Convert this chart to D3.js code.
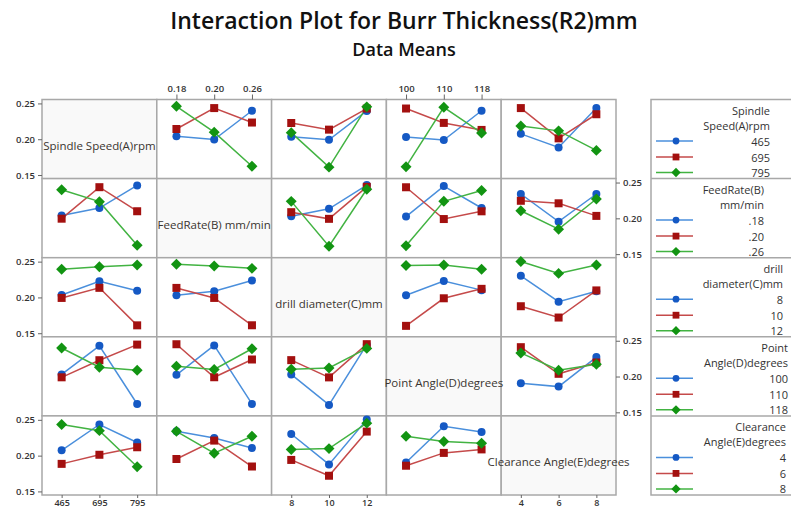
<!DOCTYPE html>
<html><head><meta charset="utf-8">
<script src="https://cdn.jsdelivr.net/npm/d3@7"></script>
<style>
body{margin:0;background:#fff}
svg{display:block}
text{font-family:"Open Sans","Noto Sans",sans-serif}
</style>
</head><body>
<svg id="c" width="791" height="507"></svg>
<script>
// ---------- data ----------
const titleText = "Interaction Plot for Burr Thickness(R2)mm";
const subtitleText = "Data Means";
const factorNames = ["Spindle Speed(A)rpm", "FeedRate(B) mm/min", "drill diameter(C)mm", "Point Angle(D)degrees", "Clearance Angle(E)degrees"];
const axisLevels = [["465","695","795"], ["0.18","0.20","0.26"], ["8","10","12"], ["100","110","118"], ["4","6","8"]];
const legendLevels = [["465","695","795"], [".18",".20",".26"], ["8","10","12"], ["100","110","118"], ["4","6","8"]];
const legendTitles = [["Spindle","Speed(A)rpm"], ["FeedRate(B)","mm/min"], ["drill","diameter(C)mm"], ["Point","Angle(D)degrees"], ["Clearance","Angle(E)degrees"]];
const yTicks = [0.15, 0.20, 0.25];

// cell means: rows = levels of first factor, columns = levels of second factor
const meansAB = [[0.2040,0.1995,0.2398],[0.2143,0.2435,0.2233],[0.2460,0.2099,0.1623]];
const meansAC = [[0.2034,0.1993,0.2395],[0.2227,0.2134,0.2428],[0.2092,0.1610,0.2452]];
const meansAD = [[0.2030,0.1989,0.2398],[0.2429,0.2228,0.2130],[0.1616,0.2446,0.2088]];
const meansAE = [[0.2075,0.1885,0.2435],[0.2435,0.2012,0.2349],[0.2184,0.2117,0.1844]];
const meansBC = [[0.2030,0.2133,0.2464],[0.2086,0.1993,0.2440],[0.2237,0.1611,0.2406]];
const meansBD = [[0.2024,0.2451,0.2144],[0.2434,0.1990,0.2098],[0.1617,0.2238,0.2388]];
const meansBE = [[0.2340,0.1953,0.2340],[0.2245,0.2210,0.2034],[0.2106,0.1848,0.2270]];
const meansCD = [[0.2030,0.2229,0.2102],[0.1603,0.1988,0.2120],[0.2445,0.2452,0.2393]];
const meansCE = [[0.2302,0.1940,0.2086],[0.1877,0.1719,0.2098],[0.2503,0.2336,0.2454]];
const meansDE = [[0.1905,0.1859,0.2272],[0.2410,0.2038,0.2196],[0.2330,0.2087,0.2172]];

const tables = {"0-1":meansAB,"0-2":meansAC,"0-3":meansAD,"0-4":meansAE,"1-2":meansBC,"1-3":meansBD,"1-4":meansBE,"2-3":meansCD,"2-4":meansCE,"3-4":meansDE};
function cellMeans(r, c){
  if (r < c) return tables[r+"-"+c];
  const t = tables[c+"-"+r];
  return t[0].map((_,k)=>t.map(row=>row[k]));
}

// ---------- style / layout ----------
const lineCols = ["#4a8fdc","#c54a4a","#42b342"];
const markCols = ["#1559c4","#a3100f","#129412"];
const gridL = 42, gridT = 99.5, cw = 114.8, ch = 79.1, N = 5;
const gridR = gridL + N*cw, gridB = gridT + N*ch;
const legL = 651;
const legRight = [770, 764, 783, 788, 786];
const yDomain = [0.145, 0.2555];

const svg = d3.select("#c");

function marker(sel, k, scale){
  const s = scale || 1;
  if (k === 0) sel.append("circle").attr("r", 4*s).attr("fill", markCols[0]);
  else if (k === 1) sel.append("path").attr("d", d3.symbol(d3.symbolSquare, 64*s*s)()).attr("fill", markCols[1]);
  else sel.append("path").attr("d", d3.symbol(d3.symbolSquare, 60*s*s)()).attr("transform","rotate(45)").attr("fill", markCols[2]);
}

// title
svg.append("text").attr("x",404).attr("y",29).attr("text-anchor","middle")
  .attr("font-size",23).attr("font-weight",600).attr("fill","#111").text(titleText);
svg.append("text").attr("x",404).attr("y",56).attr("text-anchor","middle")
  .attr("font-size",18).attr("font-weight",600).attr("fill","#111").text(subtitleText);

const y = d3.scaleLinear().domain(yDomain);

for (let i=0;i<N;i++){
  for (let j=0;j<N;j++){
    const x0 = gridL + j*cw, y0 = gridT + i*ch;
    const g = svg.append("g");
    g.append("rect").attr("x",x0).attr("y",y0).attr("width",cw).attr("height",ch)
      .attr("fill", i===j ? "#f9f9f9" : "#fff").attr("stroke","#a8a8a8").attr("stroke-width",1.5);
    if (i===j) continue;
    const xs = d3.scalePoint().domain(axisLevels[j]).range([x0, x0+cw]).padding(0.52);
    const ys = y.copy().range([y0+ch, y0]);
    const m = cellMeans(i,j);
    m.forEach((vals,k)=>{
      const pts = vals.map((v,q)=>[xs(axisLevels[j][q]), ys(v)]);
      g.append("path").attr("d", d3.line()(pts)).attr("fill","none")
        .attr("stroke", lineCols[k]).attr("stroke-width",1.5);
    });
    m.forEach((vals,k)=>{
      vals.forEach((v,q)=>{
        const mg = g.append("g").attr("transform",`translate(${xs(axisLevels[j][q])},${ys(v)})`);
        marker(mg,k);
      });
    });
  }
}

function styleAxis(a){
  a.select(".domain").remove();
  a.selectAll("line").attr("stroke","#666");
  a.selectAll("text").attr("font-size",9.5).attr("font-weight",600).attr("fill","#333")
    .style("font-family",'"Open Sans","Noto Sans",sans-serif');
}

// y axes
for (let i=0;i<N;i++){
  const y0 = gridT + i*ch;
  const ys = y.copy().range([y0+ch, y0]);
  if (i%2===0){
    const a = svg.append("g").attr("transform",`translate(${gridL},0)`)
      .call(d3.axisLeft(ys).tickValues(yTicks).tickFormat(d3.format(".2f")).tickSize(4).tickPadding(3));
    styleAxis(a);
  } else {
    const a = svg.append("g").attr("transform",`translate(${gridR},0)`)
      .call(d3.axisRight(ys).tickValues(yTicks).tickFormat(d3.format(".2f")).tickSize(4).tickPadding(3));
    styleAxis(a);
  }
}
// x axes
for (let j=0;j<N;j++){
  const x0 = gridL + j*cw;
  const xs = d3.scalePoint().domain(axisLevels[j]).range([x0, x0+cw]).padding(0.52);
  if (j%2===1){
    const a = svg.append("g").attr("transform",`translate(0,${gridT})`)
      .call(d3.axisTop(xs).tickSize(5).tickPadding(3));
    styleAxis(a);
  } else {
    const a = svg.append("g").attr("transform",`translate(0,${gridB})`)
      .call(d3.axisBottom(xs).tickSize(3).tickPadding(1));
    styleAxis(a);
    a.selectAll("text").attr("dy", null).attr("y", 10.5).attr("font-size", 9);
  }
}

// diagonal labels
for (let i=0;i<N;i++){
  svg.append("text").attr("x", gridL + i*cw + cw/2).attr("y", gridT + i*ch + ch/2 + 6)
    .attr("text-anchor","middle").attr("dominant-baseline","central")
    .attr("font-size",11.5).attr("fill","#3a3530").text(factorNames[i]);
}

// legend
svg.append("rect").attr("x",legL).attr("y",gridT).attr("width",200).attr("height",N*ch)
  .attr("fill","#fff").attr("stroke","#a8a8a8").attr("stroke-width",1.5);
const lineY = [10.5, 25.5, 41.5, 57.5, 73];
for (let i=0;i<N;i++){
  const top = gridT + i*ch;
  if (i>0) svg.append("line").attr("x1",legL).attr("x2",791).attr("y1",top).attr("y2",top)
    .attr("stroke","#a8a8a8").attr("stroke-width",1.5);
  legendTitles[i].forEach((t,q)=>{
    svg.append("text").attr("x",legRight[i]).attr("y",top+lineY[q]).attr("text-anchor","end")
      .attr("dominant-baseline","central").attr("font-size",11).attr("fill","#333").text(t);
  });
  legendLevels[i].forEach((lab,k)=>{
    const yy = top + lineY[2+k];
    svg.append("line").attr("x1",656).attr("x2",693).attr("y1",yy).attr("y2",yy)
      .attr("stroke",lineCols[k]).attr("stroke-width",1.5);
    const mg = svg.append("g").attr("transform",`translate(676,${yy})`);
    marker(mg,k,0.85);
    svg.append("text").attr("x",legRight[i]).attr("y",yy).attr("text-anchor","end")
      .attr("dominant-baseline","central").attr("font-size",11).attr("fill","#333").text(lab);
  });
}
</script>
</body></html>
